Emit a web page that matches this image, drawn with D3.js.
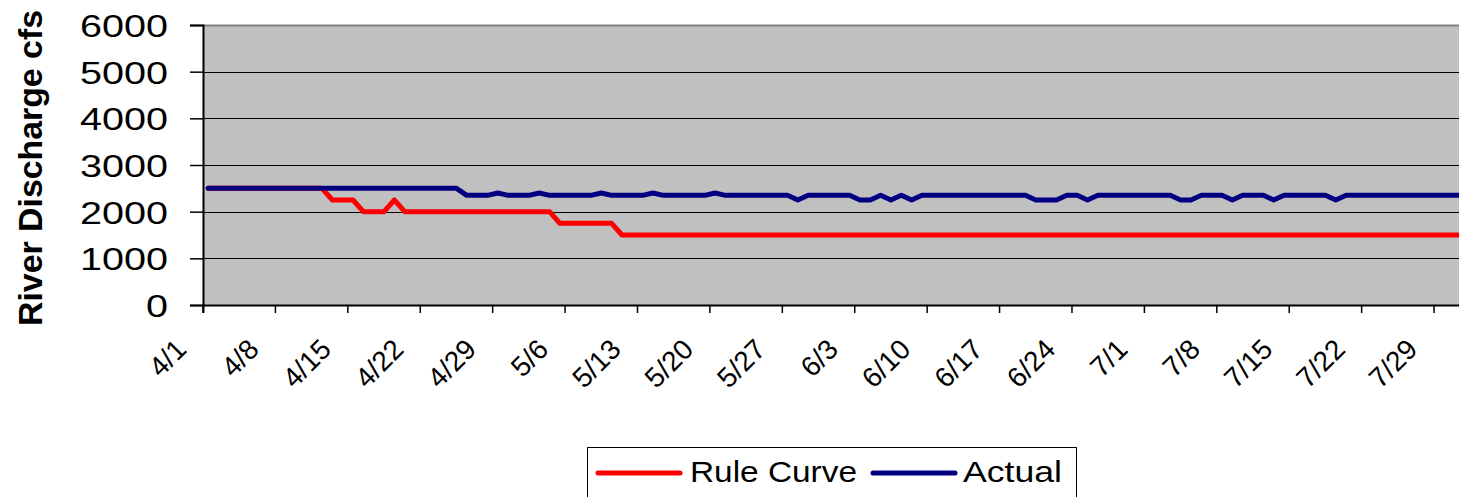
<!DOCTYPE html>
<html><head><meta charset="utf-8">
<script src="https://cdn.jsdelivr.net/npm/d3@7"></script>
<style>
html,body{margin:0;padding:0;background:#fff;overflow:hidden}
text{font-family:"Liberation Sans",Arial,sans-serif;fill:#000}
</style></head>
<body><svg id="c" width="1459" height="497"></svg>
<script>
// ---- data ----
const startDate = "2000-04-01", endDate = "2000-08-01"; // daily categories 4/1 .. 7/31
const tickLabels = ["4/1","4/8","4/15","4/22","4/29","5/6","5/13","5/20","5/27","6/3","6/10","6/17","6/24","7/1","7/8","7/15","7/22","7/29"];
const yTicks = [0,1000,2000,3000,4000,5000,6000];
const seriesNames = ["Rule Curve","Actual"];
const seriesColors = ["#ff0000","#000080"];
const ruleCurve = [
 2500,2500,2500,2500,2500,2500,2500,2500,2500,2500,
 2500,2500,2250,2250,2250,2000,2000,2000,2250,2000,
 2000,2000,2000,2000,2000,2000,2000,2000,2000,2000,
 2000,2000,2000,2000,1750,1750,1750,1750,1750,1750,
 1500,1500,1500,1500,1500,1500,1500,1500,1500,1500,
 1500,1500,1500,1500,1500,1500,1500,1500,1500,1500,
 1500,1500,1500,1500,1500,1500,1500,1500,1500,1500,
 1500,1500,1500,1500,1500,1500,1500,1500,1500,1500,
 1500,1500,1500,1500,1500,1500,1500,1500,1500,1500,
 1500,1500,1500,1500,1500,1500,1500,1500,1500,1500,
 1500,1500,1500,1500,1500,1500,1500,1500,1500,1500,
 1500,1500,1500,1500,1500,1500,1500,1500,1500,1500,
 1500,1500];
const actual = [
 2500,2500,2500,2500,2500,2500,2500,2500,2500,2500,
 2500,2500,2500,2500,2500,2500,2500,2500,2500,2500,
 2500,2500,2500,2500,2500,2350,2350,2350,2400,2350,
 2350,2350,2400,2350,2350,2350,2350,2350,2400,2350,
 2350,2350,2350,2400,2350,2350,2350,2350,2350,2400,
 2350,2350,2350,2350,2350,2350,2350,2250,2350,2350,
 2350,2350,2350,2250,2250,2350,2250,2350,2250,2350,
 2350,2350,2350,2350,2350,2350,2350,2350,2350,2350,
 2250,2250,2250,2350,2350,2250,2350,2350,2350,2350,
 2350,2350,2350,2350,2250,2250,2350,2350,2350,2250,
 2350,2350,2350,2250,2350,2350,2350,2350,2350,2250,
 2350,2350,2350,2350,2350,2350,2350,2350,2350,2350,
 2350,2350];

(function () {
// ---- layout ----
const svg = d3.select("#c");
const fmt = d3.timeFormat("%-m/%-d");
const parse = d3.timeParse("%Y-%m-%d");
const days = d3.timeDay.range(parse(startDate), parse(endDate)).map(fmt);
const pL = 203, pT = 25, pB = 305, dayW = 10.345;
const pR = pL + days.length * dayW;

const x = d3.scaleBand().domain(days).range([pL, pR]).paddingInner(0).paddingOuter(0);
const y = d3.scaleLinear().domain([0, 6000]).range([pB, pT]);

// plot background
svg.append("rect").attr("x", pL).attr("y", pT).attr("width", pR - pL).attr("height", pB - pT).attr("fill", "#c0c0c0");

// gridlines
svg.append("g").selectAll("line").data(yTicks.filter(v => v > 0 && v < 6000)).join("line")
  .attr("x1", pL).attr("x2", pR).attr("y1", d => Math.round(y(d)) + 0.5).attr("y2", d => Math.round(y(d)) + 0.5)
  .attr("stroke", "#000").attr("stroke-width", 1);
// top border
svg.append("line").attr("x1", pL).attr("x2", pR).attr("y1", pT + 0.5).attr("y2", pT + 0.5).attr("stroke", "#808080").attr("stroke-width", 2);

// y axis
const yAxis = d3.axisLeft(y).tickValues(yTicks).tickSize(13).tickFormat(d3.format("d"));
const gy = svg.append("g").attr("transform", `translate(${pL},0)`).call(yAxis);
gy.select(".domain").attr("stroke", "#000").attr("stroke-width", 2);
gy.selectAll(".tick line").attr("stroke", "#000").attr("stroke-width", 1.5);
gy.selectAll(".tick text").attr("x", -35).attr("dy", "0.36em")
  .attr("font-size", 32).attr("font-family", "Liberation Sans, Arial, sans-serif").attr("fill", "#000")
  .attr("textLength", d => String(d).length * 22).attr("lengthAdjust", "spacingAndGlyphs");

// x axis
const xAxis = d3.axisBottom(x).tickValues(tickLabels).tickSize(8).tickFormat(d => d);
const gx = svg.append("g").attr("transform", `translate(0,${pB})`).call(xAxis);
gx.select(".domain").attr("stroke", "#000").attr("stroke-width", 2);
gx.selectAll(".tick").attr("transform", d => `translate(${x(d)},0)`);
gx.selectAll(".tick line").attr("stroke", "#000").attr("stroke-width", 1.5);
gx.selectAll(".tick text")
  .attr("font-size", 28).attr("font-family", "Liberation Sans, Arial, sans-serif").attr("fill", "#000")
  .attr("text-anchor", "end").attr("dy", 0).attr("y", 0)
  .attr("transform", "translate(-15,46) rotate(-45)");

// lines
const series = [ruleCurve, actual];
const line = d3.line().x((d, i) => x(days[i]) + x.bandwidth() / 2).y(d => y(d));
const gl = svg.append("g");
series.forEach((s, k) => {
  gl.append("path").datum(s).attr("d", line).attr("fill", "none")
    .attr("stroke", seriesColors[k]).attr("stroke-width", 5).attr("stroke-linejoin", "round").attr("stroke-linecap", "round");
});

// y title
svg.append("text").attr("transform", "translate(42,168) rotate(-90)")
  .attr("text-anchor", "middle").attr("font-size", 33).attr("font-weight", "bold")
  .attr("textLength", 316).attr("lengthAdjust", "spacingAndGlyphs")
  .text("River Discharge cfs");

// legend
const lg = svg.append("g");
lg.append("rect").attr("x", 587.5).attr("y", 447.5).attr("width", 489).attr("height", 60).attr("fill", "#fff").attr("stroke", "#000").attr("stroke-width", 1);
const legItems = [{x1: 598, x2: 680, tx: 690, tl: 167}, {x1: 873, x2: 955, tx: 963, tl: 99}];
legItems.forEach((it, k) => {
  lg.append("line").attr("x1", it.x1).attr("x2", it.x2).attr("y1", 473).attr("y2", 473)
    .attr("stroke", seriesColors[k]).attr("stroke-width", 5).attr("stroke-linecap", "round");
  lg.append("text").attr("x", it.tx).attr("y", 482).attr("font-size", 30)
    .attr("textLength", it.tl).attr("lengthAdjust", "spacingAndGlyphs").text(seriesNames[k]);
});
})();
</script></body></html>
